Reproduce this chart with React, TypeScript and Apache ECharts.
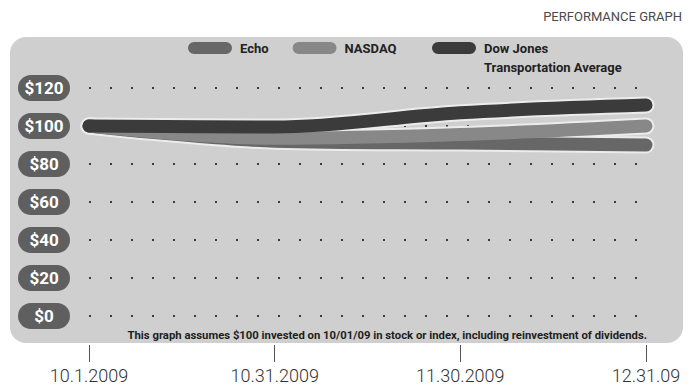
import React, { useEffect, useRef } from "react";
import * as echarts from "echarts";

// Month-end checkpoints of the cumulative return comparison
const categories = ["10.1.2009", "10.31.2009", "11.30.2009", "12.31.09"];

// Value of $100 invested on 10/01/09
const echoValues = [100, 92, 91, 90];
const nasdaqValues = [100, 93.5, 95.5, 100];
const dowValues = [100, 99.5, 107, 111];

const seriesNames = ["Echo", "NASDAQ", "Dow Jones Transportation Average"];
const seriesColors = ["#676767", "#888888", "#3b3b3b"];

const yMin = 0;
const yMax = 120;
const yStep = 20;

const titleText = "PERFORMANCE GRAPH";
const noteText =
  "This graph assumes $100 invested on 10/01/09 in stock or index, including reinvestment of dividends.";

const FONT = "Roboto, 'Liberation Sans', sans-serif";
const CAPSULE = "path://M6,0 H38 A6,6 0 0 1 38,12 H6 A6,6 0 0 1 6,0 Z";

export default function App() {
  const ref = useRef<HTMLDivElement>(null);

  useEffect(() => {
    if (!ref.current) return;
    const chart = echarts.init(ref.current, undefined, { renderer: "svg" });

    const valueSets = [echoValues, nasdaqValues, dowValues];

    // light halo drawn under each line so crossing strokes separate cleanly
    const halos = valueSets.map((vals, i) => ({
      name: seriesNames[i] + " outline",
      type: "line",
      data: vals,
      smooth: 0.35,
      symbol: "none",
      silent: true,
      z: 1,
      lineStyle: { width: 17, color: "#ececec", cap: "round", join: "round" },
    }));

    const lines = valueSets.map((vals, i) => ({
      name: seriesNames[i],
      type: "line",
      data: vals,
      smooth: 0.35,
      symbol: "none",
      z: 3 + i,
      color: seriesColors[i],
      lineStyle: { width: 13, color: seriesColors[i], cap: "round", join: "round" },
    }));

    const legendText = {
      fontFamily: FONT,
      fontSize: 13,
      fontWeight: "bold",
      color: "#222",
      padding: [0, 0, 0, 3],
    };

    chart.setOption({
      animation: false,
      textStyle: { fontFamily: FONT },
      grid: { left: 89, right: 44, top: 88, bottom: 72 },
      legend: [
        {
          data: [seriesNames[0], seriesNames[1]],
          left: 188,
          top: 41.5,
          padding: 0,
          itemWidth: 44,
          itemHeight: 13,
          itemGap: 24,
          icon: CAPSULE,
          selectedMode: false,
          textStyle: legendText,
        },
        {
          data: [seriesNames[2]],
          left: 432,
          top: 19.5,
          padding: 0,
          itemWidth: 44,
          itemHeight: 13,
          icon: CAPSULE,
          selectedMode: false,
          // leading blank line keeps "Dow Jones" level with the swatch
          formatter: () => "\nDow Jones\nTransportation Average",
          textStyle: { ...legendText, lineHeight: 19 },
        },
      ],
      xAxis: {
        type: "category",
        data: categories,
        boundaryGap: false,
        offset: 29,
        axisLine: { show: false, onZero: false },
        axisTick: { show: true, inside: false, length: 17, lineStyle: { color: "#555", width: 1 } },
        axisLabel: {
          margin: 21,
          fontFamily: FONT,
          fontSize: 18,
          fontWeight: 300,
          color: "#333",
        },
      },
      yAxis: {
        type: "value",
        min: yMin,
        max: yMax,
        interval: yStep,
        axisLine: { show: false },
        axisTick: { show: false },
        splitLine: {
          show: true,
          lineStyle: { color: "#3a3a3a", width: 2, type: [2, 19] },
        },
        axisLabel: {
          formatter: (v: number) => "$" + v,
          align: "center",
          margin: 45,
          width: 38,
          padding: [4, 7, 4, 7],
          lineHeight: 18,
          backgroundColor: "#5f5f5f",
          borderRadius: 13,
          color: "#ffffff",
          fontFamily: FONT,
          fontWeight: "bold",
          fontSize: 17,
        },
      },
      graphic: [
        {
          type: "rect",
          z: -10,
          silent: true,
          shape: { x: 10, y: 37, width: 673, height: 306, r: 16 },
          style: { fill: "#cfcfcf" },
        },
        {
          type: "text",
          right: 8,
          top: 10,
          style: {
            text: titleText,
            font: "13px " + FONT,
            fill: "#4a4a4a",
          },
        },
        {
          type: "text",
          z: 10,
          x: 647,
          y: 335,
          style: {
            text: noteText,
            font: "bold 11.3px " + FONT,
            fill: "#1e1e1e",
            align: "right",
            verticalAlign: "middle",
          },
        },
      ],
      series: [...halos, ...lines],
    });

    return () => chart.dispose();
  }, []);

  return (
    <div
      ref={ref}
      style={{ position: "fixed", left: 0, top: 0, width: 690, height: 388, background: "#fff" }}
    />
  );
}
